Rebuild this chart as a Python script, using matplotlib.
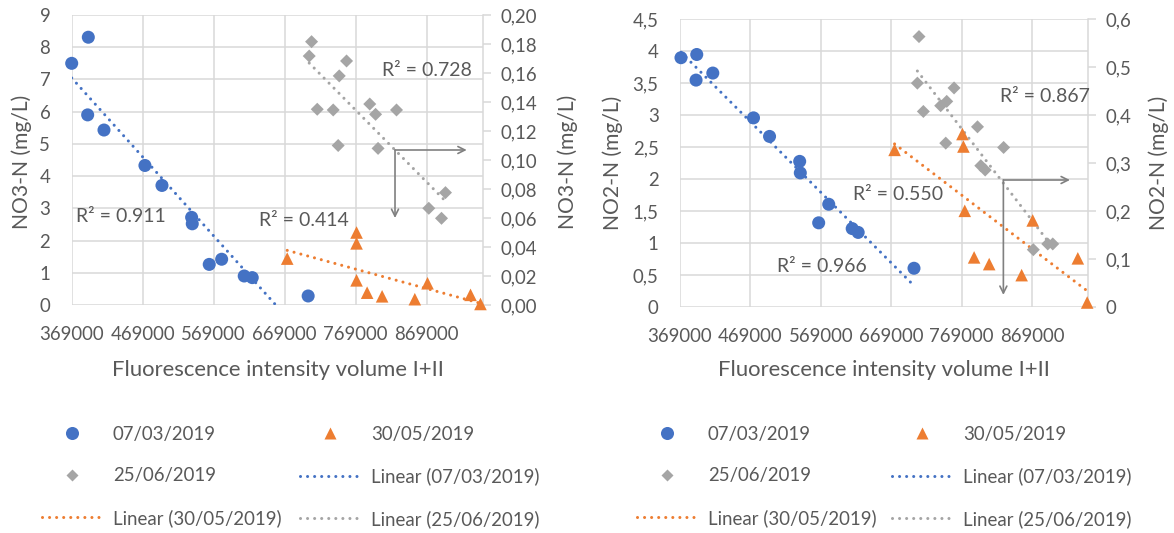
import numpy as np
import matplotlib
matplotlib.use('Agg')
import matplotlib.pyplot as plt
from matplotlib.lines import Line2D
from matplotlib.ticker import FuncFormatter

plt.rcParams['font.family'] = ['Lato', 'DejaVu Sans']

# ---------------- data ----------------
x_ticks = [369000, 469000, 569000, 669000, 769000, 869000]
x_max = 949000

# NO3-N chart
no3_x_0703 = [369000, 392400, 391500, 414500, 472200, 496200, 538000, 538900, 562800, 580300, 612100, 623400, 702200]
no3_y_0703 = [7.50, 8.31, 5.90, 5.43, 4.33, 3.71, 2.72, 2.52, 1.26, 1.42, 0.90, 0.85, 0.28]
no3_x_3005 = [672700, 770400, 770400, 770400, 785300, 806400, 852500, 870400, 931000, 945000]
no3_y_3005 = [0.032, 0.050, 0.0425, 0.017, 0.0085, 0.006, 0.004, 0.015, 0.007, 0.0007]
no3_x_2506 = [707000, 703700, 756300, 746000, 715000, 737500, 744500, 789000, 797200, 826700, 800700, 895700, 872200, 890100]
no3_y_2506 = [0.1816, 0.1717, 0.1683, 0.158, 0.135, 0.1345, 0.110, 0.1386, 0.1315, 0.1345, 0.108, 0.0775, 0.0667, 0.0598]
no3_r2 = ['R² = 0.911', 'R² = 0.414', 'R² = 0.728']

# NO2-N chart
no2_x_0703 = [370400, 392800, 391800, 415600, 473400, 496200, 539000, 539900, 566000, 580300, 613600, 622100, 701400]
no2_y_0703 = [3.90, 3.95, 3.55, 3.66, 2.96, 2.67, 2.28, 2.10, 1.32, 1.61, 1.23, 1.17, 0.61]
no2_x_3005 = [673800, 770200, 771600, 773500, 786800, 808200, 854300, 870000, 934100, 947400]
no2_y_3005 = [0.328, 0.361, 0.335, 0.201, 0.104, 0.090, 0.067, 0.181, 0.102, 0.010]
no2_x_2506 = [708500, 706200, 714700, 739300, 747900, 758300, 746500, 791600, 796300, 802500, 828700, 870900, 891400, 898500]
no2_y_2506 = [0.564, 0.467, 0.408, 0.420, 0.429, 0.457, 0.342, 0.376, 0.295, 0.286, 0.333, 0.120, 0.132, 0.132]
no2_r2 = ['R² = 0.966', 'R² = 0.550', 'R² = 0.867']

labels_series = ['07/03/2019', '30/05/2019', '25/06/2019']

# ---------------- style ----------------
BLUE, ORANGE, GRAY = '#4472C4', '#ED7D31', '#A5A5A5'
TXT = '#595959'
GRID = '#D9D9D9'
W, H = 1174, 533
DOT = (0, (0.01, 2.3))

fig = plt.figure(figsize=(W / 100, H / 100), dpi=100)
renderer = fig.canvas.get_renderer()


def measure(s, fs):
    t = fig.text(0, 0, s, fontsize=fs)
    bb = t.get_window_extent(renderer)
    t.remove()
    return bb.width, bb.height


def fit_fs(s, target_w, fs0=14.0):
    w, _ = measure(s, fs0)
    return fs0 * target_w / w


TICK_FS = fit_fs('369000', 65)
TITLE_FS = fit_fs('Fluorescence intensity volume I+II', 334)
LEG_FS = fit_fs('07/03/2019', 104)
R2_FS = fit_fs('R² = 0.728', 90)
YLAB_FS = fit_fs('NO3-N (mg/L)', 135)


def px_rect(x0, y0, x1, y1):
    return [x0 / W, 1 - y1 / H, (x1 - x0) / W, (y1 - y0) / H]


def comma_fmt(decimals):
    def f(v, pos):
        if decimals == 0:
            return '%d' % round(v)
        if decimals == 1:
            return ('%g' % round(v, 1)).replace('.', ',')
        return (('%.' + str(decimals) + 'f') % v).replace('.', ',')
    return FuncFormatter(f)


def trend(ax, x, y, color):
    k, b = np.polyfit(x, y, 1)
    xs = np.array([min(x), max(x)])
    ax.plot(xs, k * xs + b, color=color, lw=2.2, linestyle=DOT,
            dash_capstyle='round', zorder=3)


def make_chart(rect, xb, yb, xo, yo, xg, yg, ylim1, yt1, fmt1, ylim2, yt2, fmt2,
               r2, r2pos, arrow):
    ax = fig.add_axes(rect)
    ax2 = ax.twinx()
    ax.set_xlim(x_ticks[0], x_max)
    ax.set_xticks(x_ticks)
    ax.set_ylim(*ylim1)
    ax.set_yticks(yt1)
    ax.yaxis.set_major_formatter(fmt1)
    ax2.set_ylim(*ylim2)
    ax2.set_yticks(yt2)
    ax2.yaxis.set_major_formatter(fmt2)
    ax.grid(True, color=GRID, lw=1.1)
    ax.set_axisbelow(True)
    for s in ax.spines.values():
        s.set_visible(False)
    for s in ['left', 'top', 'bottom']:
        ax2.spines[s].set_visible(False)
    ax2.spines['right'].set_color(GRID)
    ax2.spines['right'].set_linewidth(1.1)
    ax.tick_params(axis='both', length=0, colors=TXT, labelsize=TICK_FS)
    ax.tick_params(axis='x', pad=15.2)
    ax.tick_params(axis='y', pad=15.4)
    ax2.tick_params(axis='y', length=5.5, width=1.1, color=GRID, labelcolor=TXT,
                    labelsize=TICK_FS, pad=7.0)

    ax.scatter(xb, yb, s=88, marker='o', color=BLUE, edgecolors='none', zorder=4,
               clip_on=False)
    trend(ax, xb, yb, BLUE)
    ax2.scatter(xo, yo, s=82, marker='^', color=ORANGE, edgecolors='none', zorder=4,
                clip_on=False)
    ax2.scatter(xg, yg, s=44, marker='D', color=GRAY, edgecolors='none', zorder=4,
                clip_on=False)
    trend(ax2, xo, yo, ORANGE)
    trend(ax2, xg, yg, GRAY)

    for t, (px, py) in zip(r2, r2pos):
        ax2.text(px, py, t, transform=ax2.transAxes, ha='left', va='center',
                 fontsize=R2_FS, color=TXT)

    (cx, cy), hx, vy = arrow
    ap = dict(arrowstyle='->,head_length=0.5,head_width=0.25', color='#808080',
              lw=1.2, shrinkA=0, shrinkB=0)
    ax2.annotate('', xy=(hx, cy), xytext=(cx, cy), xycoords='axes fraction',
                 textcoords='axes fraction', arrowprops=ap)
    ax2.annotate('', xy=(cx, vy), xytext=(cx, cy), xycoords='axes fraction',
                 textcoords='axes fraction', arrowprops=ap)
    return ax, ax2


# left chart
make_chart(px_rect(71.7, 15, 483.3, 305),
           no3_x_0703, no3_y_0703, no3_x_3005, no3_y_3005, no3_x_2506, no3_y_2506,
           (0, 9), np.arange(0, 10, 1), comma_fmt(0),
           (0, 0.20), np.arange(0, 0.2001, 0.02), comma_fmt(2),
           no3_r2,
           [(0.011, 0.304), (0.456, 0.290), (0.753, 0.810)],
           ((0.7855, 0.5345), 0.9597, 0.300))

# right chart
make_chart(px_rect(680, 19.3, 1088.3, 307.3),
           no2_x_0703, no2_y_0703, no2_x_3005, no2_y_3005, no2_x_2506, no2_y_2506,
           (0, 4.5), np.arange(0, 4.51, 0.5), comma_fmt(1),
           (0, 0.6), np.arange(0, 0.601, 0.1), comma_fmt(1),
           no2_r2,
           [(0.237, 0.141), (0.4245, 0.390), (0.784, 0.731)],
           ((0.792, 0.442), 0.955, 0.043))

# axis titles
for (cx, cy, t) in [(22, 162, 'NO3-N (mg/L)'), (568, 162, 'NO3-N (mg/L)'),
                    (613, 163, 'NO2-N (mg/L)'), (1159, 163, 'NO2-N (mg/L)')]:
    fig.text(cx / W, 1 - cy / H, t, rotation=90, ha='center', va='center',
             fontsize=YLAB_FS, color=TXT)
for cx in [277.5, 884]:
    fig.text(cx / W, 1 - 370 / H, 'Fluorescence intensity volume I+II', ha='center',
             va='center', fontsize=TITLE_FS, color=TXT)


# legends
def leg_handles():
    h_c = Line2D([], [], ls='none', marker='o', ms=9.4, color=BLUE, mec='none')
    h_t = Line2D([], [], ls='none', marker='^', ms=9.0, color=ORANGE, mec='none')
    h_d = Line2D([], [], ls='none', marker='D', ms=6.5, color=GRAY, mec='none')
    l_b = Line2D([], [], color=BLUE, lw=2.2, ls=DOT, dash_capstyle='round')
    l_o = Line2D([], [], color=ORANGE, lw=2.2, ls=DOT, dash_capstyle='round')
    l_g = Line2D([], [], color=GRAY, lw=2.2, ls=DOT, dash_capstyle='round')
    hs = [h_c, h_d, l_o, h_t, l_b, l_g]
    ls = [labels_series[0], labels_series[2], 'Linear (%s)' % labels_series[1],
          labels_series[1], 'Linear (%s)' % labels_series[0], 'Linear (%s)' % labels_series[2]]
    return hs, ls


em = LEG_FS * 100 / 72.0
lw_col1, th = measure('Linear (30/05/2019)', LEG_FS)
_, th = measure('07/03/2019', LEG_FS)
handle_len = 60.0 / em
text_pad = 11.0 / em
for lx, col2x in [(41.7, 300.0), (636.7, 891.7)]:
    col_sp = (col2x - (lx + 60.0 + 11.0 + lw_col1)) / em
    hs, ls = leg_handles()
    top = 434.5 - th / 2.0
    fig.legend(hs, ls, ncol=2, loc='upper left', bbox_to_anchor=(lx / W, 1 - top / H),
               frameon=False, fontsize=LEG_FS, labelcolor=TXT, handlelength=handle_len,
               handletextpad=text_pad, columnspacing=col_sp,
               labelspacing=(41.5 - th) / em,
               borderpad=0, borderaxespad=0)

fig.savefig('out.png', dpi=100)
